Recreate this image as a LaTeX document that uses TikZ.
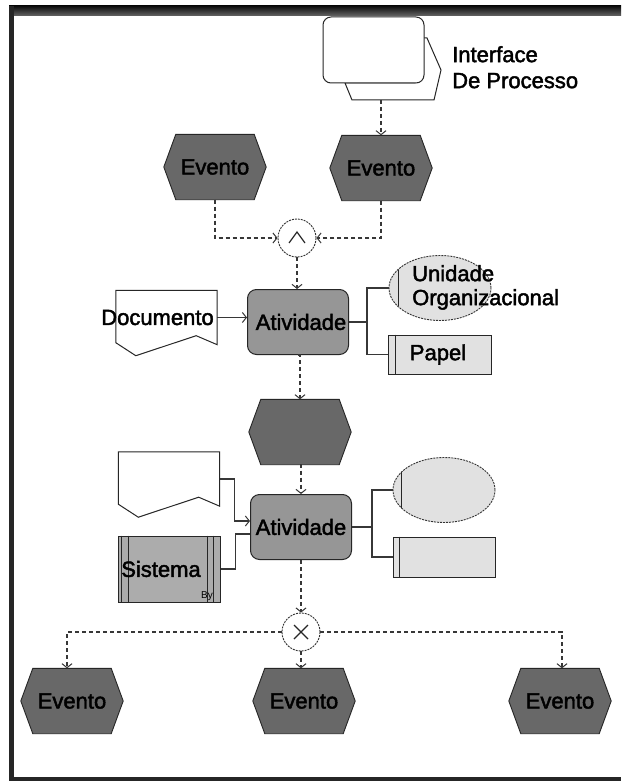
\documentclass[tikz,border=0pt]{standalone}
\usepackage{fontspec}
\setmainfont{Liberation Sans}[BoldFont={Liberation Sans}, BoldFeatures={FakeBold=2}]
\usetikzlibrary{arrows.meta,shapes.geometric,calc}

\definecolor{evgray}{RGB}{104,104,104}
\definecolor{actgray}{RGB}{150,150,150}
\definecolor{sysgray}{RGB}{172,172,172}
\definecolor{lightgray}{RGB}{225,225,225}
\definecolor{linegray}{RGB}{55,55,55}

% EPC event: invisible box, hexagon outline, then the label on top
\newcommand\eventnode[3]{%
  \node[evbox] (#1) at (#2) {};
  \draw[evshape] (#1.west) -- ([xshift=12pt]#1.north west) -- ([xshift=-12pt]#1.north east)
     -- (#1.east) -- ([xshift=-12pt]#1.south east) -- ([xshift=12pt]#1.south west) -- cycle;
  \node[lbl] (#1t) at (#1) {#3};
}
% document symbol with a wavy lower edge
\newcommand\docnode[2]{%
  \node[docbox] (#1) at (#2) {};
  \draw[docshape] (#1.north west) -- (#1.north east) -- (#1.south east)
     -- ([xshift=-21pt,yshift=9pt]#1.south east) -- ([xshift=20pt,yshift=-11pt]#1.south west)
     -- ([yshift=2pt]#1.south west) -- cycle;
}

\begin{document}
\begin{tikzpicture}[x=1pt,y=-1pt,
  bigfont/.style={font=\fontsize{22}{26}\selectfont\bfseries},
  lbl/.style={bigfont, inner sep=0pt, text=black},
  evbox/.style={minimum width=102pt, minimum height=65pt, inner sep=0pt},
  evshape/.style={fill=evgray, draw=black!85, line width=0.9pt},
  docbox/.style={minimum width=101pt, minimum height=54pt, inner sep=0pt},
  docshape/.style={fill=white, draw=black!85, line width=1pt},
  activity/.style={rectangle, rounded corners=9pt, fill=actgray, draw=black!85, line width=1pt,
    minimum width=101pt, minimum height=65pt, inner sep=0pt, bigfont},
  orgunit/.style={ellipse, fill=lightgray, draw=black!80, dash pattern=on 2pt off 1pt, line width=0.9pt,
    minimum width=102pt, minimum height=65pt, inner sep=0pt},
  rolebox/.style={rectangle, fill=lightgray, draw=black!85, line width=1pt,
    minimum width=103pt, minimum height=39pt, inner sep=0pt, bigfont},
  sysbox/.style={rectangle, fill=sysgray, draw=black!85, line width=1pt,
    minimum width=102pt, minimum height=66pt, inner sep=0pt},
  rule/.style={circle, fill=white, draw=black!80, dash pattern=on 2pt off 1pt, line width=0.9pt,
    minimum size=38pt, inner sep=0pt},
  tip/.style={-{Straight Barb[length=4pt,width=10pt,line width=1pt]}},
  flow/.style={draw=linegray, line width=1.5pt, dash pattern=on 4pt off 3pt, tip},
  link/.style={draw=linegray, line width=1.3pt}
]
\useasboundingbox (0,0) rectangle (621,781);
\fill[white] (0,0) rectangle (621,781);

% window frame
\shade[top color=black!95, bottom color=black!60] (9,6) rectangle (621,16);
\fill[black!85] (9,6) rectangle (14,781);
\fill[black!85] (9,777) rectangle (621,781);

% process interface
\draw[fill=white, draw=black!85, line width=1pt]
  (345,83) -- (352,100) -- (434,100) -- (441,70) -- (427,38) -- (415,38) -- (415,83) -- cycle;
\node[rectangle, rounded corners=8pt, fill=white, draw=black!85, line width=1pt,
  minimum width=101pt, minimum height=66pt] (ifr) at (373.5,50) {};
\coordinate (ifb) at (381,100);
\node[lbl, anchor=north west, align=left] (iflbl) at (452,46) {Interface\\De Processo};

% start events and AND rule
\eventnode{e1}{215,167}{Evento}
\eventnode{e2}{381,168}{Evento}
\node[rule] (and) at (297,238) {};
\draw[line width=1.2pt, black!85] ($(and)+(-8,5)$) -- ($(and)+(0,-6)$) -- ($(and)+(8,5)$);

\draw[flow] (ifb) -- (e2.north);
\draw[flow] (e1.south) |- (and.west);
\draw[flow] (e2.south) |- (and.east);

% first activity with its inputs and organisation
\docnode{d1}{166.5,317.5}
\node[lbl] (d1t) at ([xshift=-9pt]d1.center) {Documento};
\node[activity] (a1) at (298,322) {\hspace*{6pt}Atividade};
\node[orgunit] (org1) at (440,288) {};
\draw[line width=1pt, black!85] ([xshift=10pt,yshift=18pt]org1.west) -- ([xshift=10pt,yshift=-18pt]org1.west);
\node[lbl, anchor=north west, align=left, font=\fontsize{22}{24}\selectfont\bfseries] (org1t) at (412,265) {Unidade\\Organizacional};
\node[rolebox] (pap) at (440,354.5) {\hspace*{-4pt}Papel};
\draw[line width=1pt, black!85] ([xshift=7pt]pap.north west) -- ([xshift=7pt]pap.south west);

\draw[flow] (and.south) -- (and.south |- a1.north);
\draw[link, tip] (d1.east) -- (d1.east -| a1.west);
\coordinate (b1) at (367,322);
\draw[link] (a1.east) -- (b1) |- (org1.west);
\draw[link] (b1) |- (pap.west);

% intermediate event
\eventnode{e3}{300,432}{}
\draw[flow] (a1.south) -- (a1.south -| e3.north) -- (e3.north);

% second activity
\docnode{d2}{169,479}
\node[sysbox] (sys) at (169,569) {};
\draw[line width=1pt, black!85]
  ([xshift=4pt]sys.north west) -- ([xshift=4pt]sys.south west)
  ([xshift=11pt]sys.north west) -- ([xshift=11pt]sys.south west)
  ([xshift=-7pt]sys.north east) -- ([xshift=-7pt]sys.south east)
  ([xshift=-13pt]sys.north east) -- ([xshift=-13pt]sys.south east);
\node[lbl] (syst) at (161,569) {Sistema};
\node[inner sep=0pt, font=\fontsize{10}{10}\selectfont] (sysby) at (207,596) {By};
\node[activity] (a2) at (301,527) {Atividade};
\node[orgunit] (org2) at (444,490) {};
\draw[line width=1pt, black!85] ([xshift=9pt,yshift=18pt]org2.west) -- ([xshift=9pt,yshift=-18pt]org2.west);
\node[rolebox, minimum width=102pt, minimum height=40pt] (r2) at (444,557) {};
\draw[line width=1pt, black!85] ([xshift=7pt]r2.north west) -- ([xshift=7pt]r2.south west);

\draw[flow] (e3.south) -- (e3.south -| a2.north) -- (a2.north);
\draw[link, tip] (d2.east) -- ++(15,0) |- ([yshift=6pt]a2.west);
\draw[link] (sys.east) -- ++(15,0) |- ([yshift=-7pt]a2.west);
\coordinate (b2) at (372,527);
\draw[link] (a2.east) -- (b2) |- (org2.west);
\draw[link] (b2) |- (r2.west);

% XOR split to the end events
\node[rule] (xor) at (301,632) {};
\draw[line width=1.2pt, black!85] ($(xor)+(-7,-7)$) -- ($(xor)+(7,7)$) ($(xor)+(-7,7)$) -- ($(xor)+(7,-7)$);
\eventnode{e4}{72,701}{Evento}
\eventnode{e5}{304,701}{Evento}
\eventnode{e6}{560,701}{Evento}

\draw[flow] (a2.south) -- (xor.north);
\draw[flow] (xor.west) -| ([xshift=-5pt]e4.north);
\draw[flow] (xor.east) -| ([xshift=2pt]e6.north);
\draw[flow] (xor.south) -- (xor.south |- e5.north);
\end{tikzpicture}
\end{document}
